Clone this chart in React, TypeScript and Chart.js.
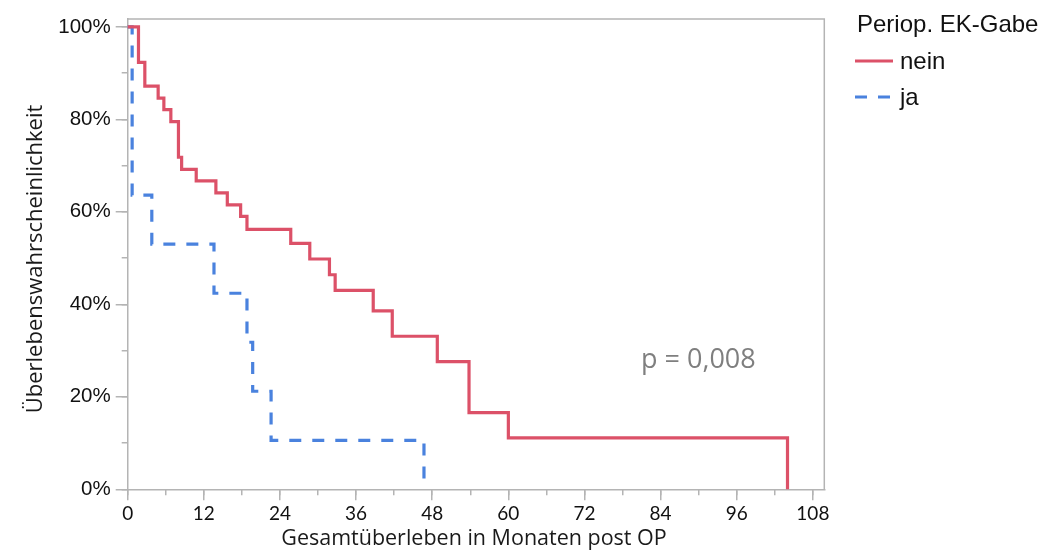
import React, { useEffect, useRef } from "react";
import { Chart, registerables } from "chart.js";

Chart.register(...registerables);

// ---- data ----
const RED_LABEL = "nein";
const RED_MONTHS = [0, 1.7, 2.7, 4.8, 5.7, 6.8, 8.0, 8.5, 10.8, 13.9, 15.7, 17.8, 18.8, 25.7, 28.7, 31.8, 32.7, 38.7, 41.7, 48.8, 53.8, 60.0, 104.0];
const RED_SURV = [100, 92.3, 87.2, 84.6, 82.1, 79.5, 71.8, 69.2, 66.7, 64.1, 61.5, 59.0, 56.2, 53.2, 49.8, 46.4, 43.0, 38.6, 33.1, 27.6, 16.6, 11.1, 0];

const BLUE_LABEL = "ja";
const BLUE_MONTHS = [0, 0.7, 3.8, 13.6, 18.8, 19.7, 22.6, 46.7];
const BLUE_SURV = [100, 63.6, 53.0, 42.4, 31.8, 21.2, 10.6, 0];

const X_TICKS = [0, 12, 24, 36, 48, 60, 72, 84, 96, 108];
const X_MINOR_TICKS = [0, 6, 12, 18, 24, 30, 36, 42, 48, 54, 60, 66, 72, 78, 84, 90, 96, 102, 108];
const Y_TICKS = [0, 20, 40, 60, 80, 100];
const Y_MINOR_TICKS = [0, 10, 20, 30, 40, 50, 60, 70, 80, 90, 100];

const X_TITLE = "Gesamtüberleben in Monaten post OP";
const Y_TITLE = "Überlebenswahrscheinlichkeit";
const LEGEND_TITLE = "Periop. EK-Gabe";
const P_TEXT = "p = 0,008";

// ---- styles ----
const RED = "#dc5168";
const BLUE = "#4a82de";
const AXIS = "#b4b4b4";
const BLUE_DASH = [12, 11];

const X_MIN = 0;
const X_MAX = 109.8;
const Y_MIN = 0;
const Y_MAX = 101.7;

const decorPlugin = {
  id: "decor",
  afterDraw(chart: any) {
    const { ctx, chartArea: a } = chart;
    ctx.save();
    // top and right frame
    ctx.strokeStyle = AXIS;
    ctx.lineWidth = 1.5;
    ctx.beginPath();
    ctx.moveTo(a.left, a.top);
    ctx.lineTo(a.right, a.top);
    ctx.lineTo(a.right, a.bottom);
    ctx.stroke();

    // x title
    ctx.fillStyle = "#1a1a1a";
    ctx.font = '21.5px "Open Sans"';
    ctx.textAlign = "center";
    ctx.textBaseline = "alphabetic";
    ctx.fillText(X_TITLE, (a.left + a.right) / 2 - 2, 545);

    // y title
    ctx.save();
    ctx.translate(42, 259);
    ctx.rotate(-Math.PI / 2);
    ctx.font = '22px "Open Sans"';
    ctx.textAlign = "center";
    ctx.textBaseline = "alphabetic";
    ctx.fillText(Y_TITLE, 0, 0);
    ctx.restore();

    // p value
    ctx.fillStyle = "#7f7f7f";
    ctx.font = '27px "Open Sans"';
    ctx.textAlign = "left";
    ctx.fillText(P_TEXT, 641, 368);

    // legend
    const ds = chart.data.datasets;
    ctx.fillStyle = "#111111";
    ctx.font = '24px "Liberation Sans", Arial';
    ctx.textAlign = "left";
    ctx.fillText(LEGEND_TITLE, 857, 31.5);

    const rows = [61, 97];
    ds.forEach((d: any, i: number) => {
      const y = rows[i];
      ctx.save();
      ctx.strokeStyle = d.borderColor;
      ctx.lineWidth = d.borderWidth;
      ctx.setLineDash(d.borderDash || []);
      ctx.beginPath();
      ctx.moveTo(855, y);
      ctx.lineTo(893, y);
      ctx.stroke();
      ctx.restore();
      ctx.fillStyle = "#111111";
      ctx.fillText(d.label, 900, y + 7.5);
    });
    ctx.restore();
  },
};

export default function App() {
  const ref = useRef<HTMLCanvasElement | null>(null);

  useEffect(() => {
    if (!ref.current) return;
    const red = RED_MONTHS.map((m, i) => ({ x: m, y: RED_SURV[i] }));
    const blue = BLUE_MONTHS.map((m, i) => ({ x: m, y: BLUE_SURV[i] }));

    const chart = new Chart(ref.current, {
      type: "line",
      data: {
        datasets: [
          {
            label: RED_LABEL,
            data: red,
            borderColor: RED,
            borderWidth: 3.2,
            stepped: "before",
            pointRadius: 0,
            fill: false,
            clip: false,
            xAxisID: "x",
            yAxisID: "y",
          },
          {
            label: BLUE_LABEL,
            data: blue,
            borderColor: BLUE,
            borderWidth: 3.2,
            borderDash: BLUE_DASH,
            stepped: "before",
            pointRadius: 0,
            fill: false,
            clip: false,
            xAxisID: "x",
            yAxisID: "y",
          },
        ],
      },
      options: {
        responsive: false,
        animation: false,
        devicePixelRatio: 1,
        layout: { padding: { top: 19, right: 225.7, left: 0, bottom: 0 } },
        plugins: { legend: { display: false }, tooltip: { enabled: false } },
        scales: {
          x: {
            type: "linear",
            position: "bottom",
            min: X_MIN,
            max: X_MAX,
            weight: 1,
            afterFit: (s: any) => {
              s.height = 64.7;
            },
            afterBuildTicks: (s: any) => {
              s.ticks = X_TICKS.map((v) => ({ value: v }));
            },
            grid: { drawOnChartArea: false, drawTicks: true, tickLength: 11, color: AXIS, lineWidth: 1.5 },
            border: { color: AXIS, width: 1.5 },
            ticks: {
              font: { family: "Lato", size: 19 },
              color: "#111111",
              padding: 2,
              maxRotation: 0,
              autoSkip: false,
              callback: (v: any) => String(v),
            },
          },
          xMinor: {
            type: "linear",
            position: "bottom",
            min: X_MIN,
            max: X_MAX,
            weight: 0,
            afterFit: (s: any) => {
              s.height = 0;
            },
            afterBuildTicks: (s: any) => {
              s.ticks = X_MINOR_TICKS.map((v) => ({ value: v }));
            },
            grid: { drawOnChartArea: false, drawTicks: true, tickLength: 6, color: AXIS, lineWidth: 1.5 },
            border: { display: false },
            ticks: { display: false },
          },
          y: {
            type: "linear",
            position: "left",
            min: Y_MIN,
            max: Y_MAX,
            weight: 1,
            afterFit: (s: any) => {
              s.width = 127.7;
            },
            afterBuildTicks: (s: any) => {
              s.ticks = Y_TICKS.map((v) => ({ value: v }));
            },
            grid: { drawOnChartArea: false, drawTicks: true, tickLength: 12, color: AXIS, lineWidth: 1.5 },
            border: { color: AXIS, width: 1.5 },
            ticks: {
              font: { family: "'Liberation Sans', Arial", size: 20.5 },
              color: "#111111",
              padding: 5,
              callback: (v: any) => `${v}%`,
            },
          },
          yMinor: {
            type: "linear",
            position: "left",
            min: Y_MIN,
            max: Y_MAX,
            weight: 0,
            afterFit: (s: any) => {
              s.width = 0;
            },
            afterBuildTicks: (s: any) => {
              s.ticks = Y_MINOR_TICKS.map((v) => ({ value: v }));
            },
            grid: { drawOnChartArea: false, drawTicks: true, tickLength: 6, color: AXIS, lineWidth: 1.5 },
            border: { display: false },
            ticks: { display: false },
          },
        },
      } as any,
      plugins: [decorPlugin],
    });
    return () => chart.destroy();
  }, []);

  return (
    <div style={{ position: "fixed", left: 0, top: 0, width: 1050, height: 554, background: "#ffffff" }}>
      <canvas ref={ref} width={1050} height={554} style={{ display: "block", width: 1050, height: 554 }} />
    </div>
  );
}
